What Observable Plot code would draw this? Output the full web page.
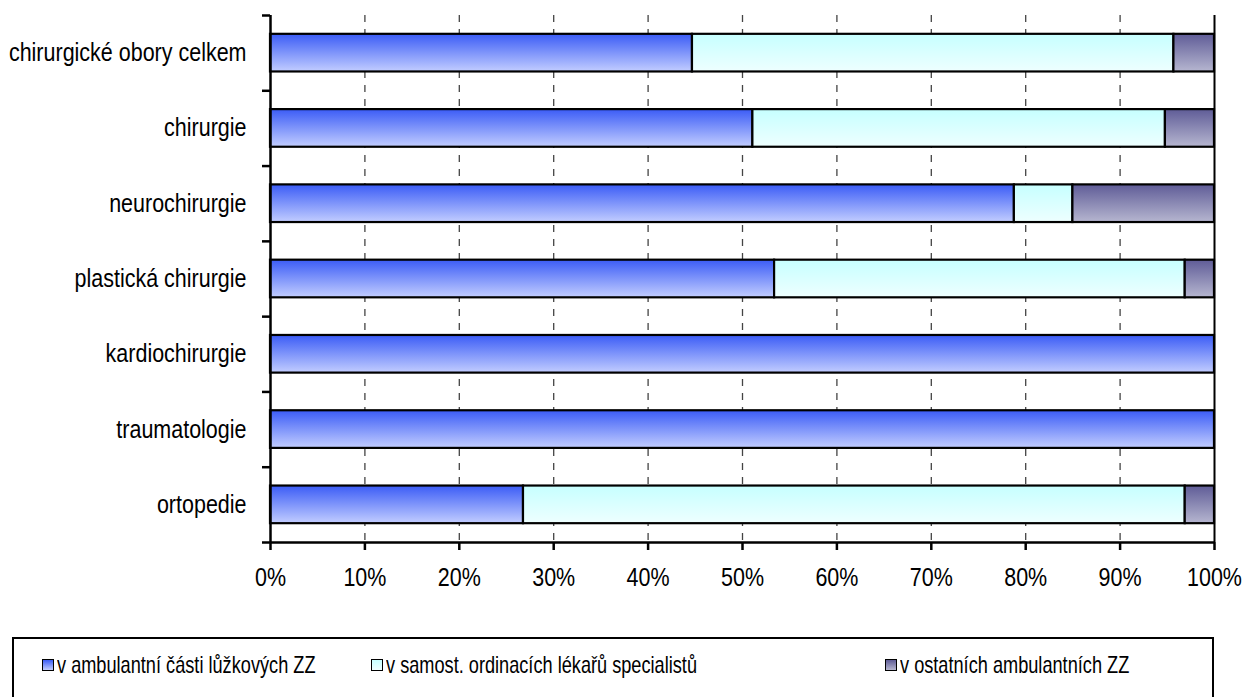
<!DOCTYPE html>
<html>
<head>
<meta charset="utf-8">
<script src="https://cdn.jsdelivr.net/npm/d3@7"></script>
<script src="https://cdn.jsdelivr.net/npm/@observablehq/plot@0.6"></script>
<style>
  html, body { margin: 0; padding: 0; background: #fff; }
  body { width: 1247px; height: 697px; position: relative; overflow: hidden;
         font-family: "Liberation Sans", Arial, sans-serif; }
  #chart { position: absolute; left: 0; top: 0; }
  #legend { position: absolute; left: 12px; top: 637px; width: 1202px; height: 80px;
            border: 2px solid #000; box-sizing: border-box; }
  .sw { position: absolute; top: 20px; width: 10px; height: 10px; border: 1.5px solid #000; }
  .lt { position: absolute; top: 12px; font-size: 24px; line-height: 28px; color: #000; white-space: nowrap;
        transform: scaleX(0.757); transform-origin: 0 50%; }
</style>
</head>
<body>
<div id="chart"></div>
<div id="legend"></div>
<script>
const categories = [
  "chirurgické obory celkem",
  "chirurgie",
  "neurochirurgie",
  "plastická chirurgie",
  "kardiochirurgie",
  "traumatologie",
  "ortopedie"
];
const seriesNames = [
  "v ambulantní části lůžkových ZZ",
  "v samost. ordinacích lékařů specialistů",
  "v ostatních ambulantních ZZ"
];
// shares (fraction of 1)
const ambulantniLuzkove = [0.447, 0.511, 0.788, 0.534, 1.0, 1.0, 0.268];
const samostOrdinace    = [0.510, 0.437, 0.062, 0.435, 0.0, 0.0, 0.701];
const ostatniZZ         = [0.043, 0.052, 0.150, 0.031, 0.0, 0.0, 0.031];
const xTicks = [0, 0.1, 0.2, 0.3, 0.4, 0.5, 0.6, 0.7, 0.8, 0.9, 1.0];

const gradients = [
  {id: "gBlue", top: "#3b5cf6", bottom: "#c2cdff"},
  {id: "gCyan", top: "#c6ffff", bottom: "#eeffff"},
  {id: "gPurple", top: "#5f5c97", bottom: "#b6b6d0"}
];

// build stacked table
const seriesValues = [ambulantniLuzkove, samostOrdinace, ostatniZZ];
const rows = [];
categories.forEach((c, i) => {
  let acc = 0;
  seriesValues.forEach((vals, s) => {
    const v = vals[i];
    if (v > 0) rows.push({cat: c, idx: i, series: s, x1: acc, x2: acc + v});
    acc += v;
  });
});

const half = 0.25;
const bars = gradients.map((g, s) =>
  Plot.rectX(rows.filter(d => d.series === s), {
    x1: "x1", x2: "x2",
    y1: d => d.idx - half, y2: d => d.idx + half,
    fill: `url(#${g.id})`, stroke: "#000", strokeWidth: 2.2
  })
);

const plot = Plot.plot({
  width: 1247,
  height: 600,
  marginTop: 15,
  marginBottom: 58,
  marginLeft: 270,
  marginRight: 33,
  style: {fontFamily: "'Liberation Sans', Arial, sans-serif", fontSize: "25px", color: "#000", background: "#fff", overflow: "visible"},
  x: {domain: [0, 1]},
  y: {domain: [-0.5, categories.length - 0.5], reverse: true},
  marks: [
    Plot.ruleX(xTicks.slice(1, -1), {stroke: "#444", strokeWidth: 1.3, strokeDasharray: "7,7"}),
    ...bars,
    Plot.ruleX([0], {stroke: "#000", strokeWidth: 2.5}),
    Plot.ruleX([1], {stroke: "#000", strokeWidth: 2}),
    Plot.ruleY([categories.length - 0.5], {stroke: "#000", strokeWidth: 2.5}),
    Plot.axisX({ticks: xTicks, tickSize: 8, tickPadding: 18, strokeWidth: 2.5,
                tickFormat: d => Math.round(d * 100) + "%", label: null, fontSize: 25}),
    Plot.axisY({ticks: d3.range(-0.5, categories.length, 1), tickSize: 8, tickFormat: () => "", strokeWidth: 2.5, label: null}),
    Plot.axisY({ticks: d3.range(0, categories.length, 1), tickSize: 0, tickPadding: 24,
                tickFormat: i => categories[i], label: null, fontSize: 25})
  ]
});

// gradient definitions
const ns = "http://www.w3.org/2000/svg";
const defs = document.createElementNS(ns, "defs");
gradients.forEach(g => {
  const lg = document.createElementNS(ns, "linearGradient");
  lg.setAttribute("id", g.id);
  lg.setAttribute("x1", "0"); lg.setAttribute("y1", "0");
  lg.setAttribute("x2", "0"); lg.setAttribute("y2", "1");
  [[0, g.top], [1, g.bottom]].forEach(([o, c]) => {
    const st = document.createElementNS(ns, "stop");
    st.setAttribute("offset", o); st.setAttribute("stop-color", c);
    lg.appendChild(st);
  });
  defs.appendChild(lg);
});
plot.insertBefore(defs, plot.firstChild);
document.getElementById("chart").appendChild(plot);

// condense text horizontally (narrow typeface look)
plot.querySelectorAll("text").forEach(t => {
  const tr = t.getAttribute("transform");
  const hasX = t.hasAttribute("x") && +t.getAttribute("x") !== 0;
  if (tr && !hasX) {
    t.setAttribute("transform", tr + " scale(0.86,1)");
  } else {
    const len = t.getComputedTextLength();
    if (len > 0) {
      t.setAttribute("textLength", (len * 0.86).toFixed(1));
      t.setAttribute("lengthAdjust", "spacingAndGlyphs");
    }
  }
});

// legend
const swX = [28, 357, 871];
const legend = document.getElementById("legend");
seriesNames.forEach((name, s) => {
  const g = gradients[s];
  const sw = document.createElement("div");
  sw.className = "sw";
  sw.style.left = swX[s] + "px";
  sw.style.background = `linear-gradient(${g.top}, ${g.bottom})`;
  legend.appendChild(sw);
  const t = document.createElement("div");
  t.className = "lt";
  t.style.left = (swX[s] + 15) + "px";
  t.textContent = name;
  legend.appendChild(t);
});
</script>
</body>
</html>
